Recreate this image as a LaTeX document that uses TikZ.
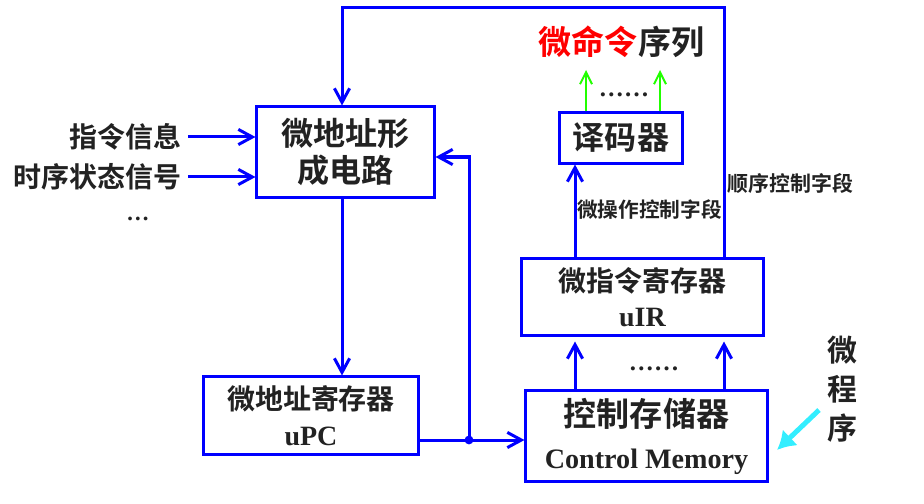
\documentclass[tikz,border=0pt]{standalone}
\usepackage{fontspec}
\usetikzlibrary{arrows.meta}
\newfontfamily\cjk{Noto Sans CJK SC}[BoldFont={Noto Sans CJK SC Bold}]
\newfontfamily\tms{Liberation Serif}
\definecolor{ink}{HTML}{222222}
\definecolor{cblue}{HTML}{0000FF}
\definecolor{cgreen}{HTML}{22FF00}
\definecolor{ccyan}{HTML}{33EEFF}
\definecolor{cred}{HTML}{FF0000}

\begin{document}
\begin{tikzpicture}[x=0.025cm,y=-0.025cm,
  box/.style={draw=cblue,line width=0.75mm,align=center,text=ink,inner sep=0pt},
  lbl/.style={text=ink,inner sep=0pt,align=center},
  flow/.style={draw=cblue,line width=0.75mm,-{Straight Barb[length=3.5mm,width=3.8mm]}},
  link/.style={draw=cblue,line width=0.75mm},
  gflow/.style={draw=cgreen,line width=0.5mm,-{Straight Barb[length=3mm,width=3mm]}},
  hflow/.style={draw=ccyan,line width=1.25mm,-{Latex[length=4.5mm,width=5.5mm]}}]
\useasboundingbox (0,0) rectangle (924,504);

\node[box,minimum width=4.425cm,minimum height=2.25cm,font=\cjk\bfseries\fontsize{22.8}{26.5}\selectfont] (addr) at (345.5,152) {微地址形\\成电路};
\node[box,minimum width=5.35cm,minimum height=1.925cm,font=\cjk\bfseries\fontsize{19.9}{25.5}\selectfont] (upc) at (311,415.5) {微地址寄存器\\{\tms\bfseries uPC}};
\node[box,minimum width=6.025cm,minimum height=1.9cm,font=\cjk\bfseries\fontsize{19.9}{25}\selectfont] (uir) at (642.5,297) {微指令寄存器\\{\tms\bfseries uIR}};
\node[box,minimum width=6.025cm,minimum height=2.25cm,font=\cjk\bfseries\fontsize{23.5}{28.5}\selectfont] (cm) at (646.5,436) {控制存储器\\[0.5mm]{\tms\bfseries\fontsize{20}{28.5}\selectfont Control Memory}};
\node[box,minimum width=3.05cm,minimum height=1.25cm,font=\cjk\bfseries\fontsize{22.8}{26}\selectfont] (dec) at (621,138) {译码器};

\node[lbl,anchor=east,font=\cjk\bfseries\fontsize{19.9}{24}\selectfont] (in1) at (182,137) {指令信息};
\node[lbl,anchor=east,font=\cjk\bfseries\fontsize{19.9}{24}\selectfont] (in2) at (182,177) {时序状态信号};
\node[lbl,font=\tms\bfseries\fontsize{16.4}{20}\selectfont] (more) at (138,219) {…};
\node[lbl,font=\cjk\bfseries\fontsize{23.5}{28}\selectfont] (cmdseq) at (621.5,42) {\textcolor{cred}{微命令}序列};
\node[lbl,font=\tms\bfseries\fontsize{17.8}{20}\selectfont] (dots1) at (624,95) {……};
\node[lbl,font=\cjk\bfseries\fontsize{14.7}{18}\selectfont] (opfield) at (649.5,210) {微操作控制字段};
\node[lbl,font=\cjk\bfseries\fontsize{14.9}{18}\selectfont] (seqfield) at (790.5,183) {顺序控制字段};
\node[lbl,font=\tms\bfseries\fontsize{17.8}{20}\selectfont] (dots2) at (654,369) {……};
\node[lbl,font=\cjk\bfseries\fontsize{21.3}{27.7}\selectfont] (mprog) at (842,389) {微\\程\\序};

\coordinate (top) at (724,8);
\coordinate (laneA) at (342,0);
\coordinate (laneL) at (575,0);
\coordinate (jn) at (469,440);
\coordinate (g1) at (586,70);
\coordinate (g2) at (660,70);
\coordinate (hs) at (819,410);
\coordinate (he) at (777,450);

\draw[flow,shorten <=1.5mm] (in1) -- (addr.west |- in1);
\draw[flow,shorten <=1.5mm] (in2) -- (addr.west |- in2);
\draw[flow] (addr.south -| laneA) -- (upc.north -| laneA);
\draw[flow] (uir.north -| top) -- (top) -| (addr.north -| laneA);
\draw[flow] (upc.east |- jn) -- (cm.west |- jn);
\fill[cblue] (jn) circle (1.1mm);
\draw[flow] (jn) |- ([yshift=-1.25mm]addr.east);
\draw[flow,shorten >=1.25mm] (cm.north -| laneL) -- (uir.south -| laneL);
\draw[flow,shorten >=1.25mm] (cm.north -| top) -- (uir.south -| top);
\draw[flow] (uir.north -| laneL) -- (dec.south -| laneL);
\draw[gflow] (dec.north -| g1) -- (g1);
\draw[gflow] (dec.north -| g2) -- (g2);
\draw[hflow] (hs) -- (he);

\end{tikzpicture}
\end{document}
